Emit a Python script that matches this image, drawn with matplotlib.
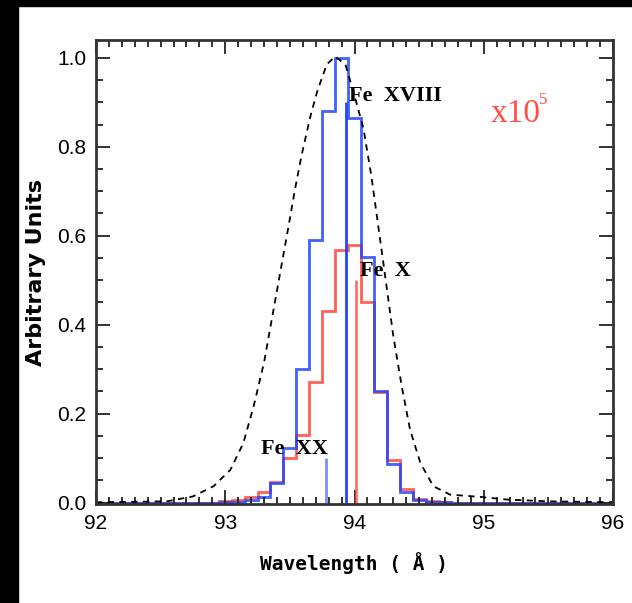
import numpy as np
import matplotlib.pyplot as plt
from matplotlib.patches import Rectangle
from matplotlib.ticker import MultipleLocator

# binned line profiles, bins 0.1 A wide centred on these wavelengths
bin_centers = [93.0, 93.1, 93.2, 93.3, 93.4, 93.5, 93.6, 93.7, 93.8,
               93.9, 94.0, 94.1, 94.2, 94.3, 94.4, 94.5, 94.6, 94.7]
blue_vals = [0.001, 0.002, 0.005, 0.012, 0.045, 0.123, 0.30, 0.59, 0.88,
             1.0, 0.865, 0.552, 0.25, 0.088, 0.024, 0.006, 0.002, 0.001]
red_vals = [0.003, 0.006, 0.012, 0.025, 0.047, 0.10, 0.153, 0.271, 0.43,
            0.567, 0.58, 0.45, 0.248, 0.095, 0.03, 0.008, 0.003, 0.001]

# instrument profile (dashed)
prof_x = [92.0, 92.3, 92.55, 92.75, 92.91, 93.04, 93.14, 93.22, 93.30, 93.36,
          93.43, 93.49, 93.54, 93.59, 93.66, 93.71, 93.785, 93.85, 93.93,
          94.00, 94.07, 94.13, 94.18, 94.225, 94.30, 94.365, 94.43, 94.51,
          94.61, 94.74, 94.97, 95.18, 95.5, 96.0]
prof_y = [0.001, 0.002, 0.003, 0.014, 0.037, 0.074, 0.134, 0.217, 0.315, 0.412,
          0.525, 0.622, 0.705, 0.780, 0.870, 0.923, 0.985, 1.003, 0.985,
          0.915, 0.840, 0.735, 0.630, 0.535, 0.375, 0.262, 0.164, 0.089,
          0.037, 0.018, 0.013, 0.007, 0.003, 0.001]

# line positions and heights
lines = [("Fe XVIII", 93.932, 0.90), ("Fe X", 94.012, 0.50), ("Fe XX", 93.78, 0.10)]

blue = '#2046ff'
red = '#ff4f45'

# pad bins with zeros over the whole window
full_centers = np.round(np.arange(92.0, 96.05, 0.1), 1)
def fill(vals):
    out = np.zeros(len(full_centers))
    for c, v in zip(bin_centers, vals):
        out[np.argmin(abs(full_centers - c))] = v
    return out
edges = np.append(full_centers - 0.05, full_centers[-1] + 0.05)

fig = plt.figure(figsize=(6.32, 6.03), dpi=100)
fig.patches.append(Rectangle((0, 0), 18 / 632, 1, transform=fig.transFigure,
                             color='black', zorder=-10))
fig.patches.append(Rectangle((0, 1 - 6 / 603), 1, 6 / 603, transform=fig.transFigure,
                             color='black', zorder=-10))
ax = fig.add_axes([96 / 632, 1 - 504 / 603, 517 / 632, 464 / 603])

ax.plot(prof_x, prof_y, color='black', lw=1.3, dashes=(3.5, 3))
ax.stairs(fill(red_vals), edges, color=red, lw=2, baseline=None, alpha=0.9)
ax.stairs(fill(blue_vals), edges, color=blue, lw=2, baseline=None, alpha=0.85)

ax.vlines(lines[0][1], 0, lines[0][2], color=blue, lw=2)
ax.vlines(lines[1][1], 0, lines[1][2], color=red, lw=2, alpha=0.8)
ax.vlines(lines[2][1], 0, lines[2][2], color=blue, lw=2, alpha=0.6)

tfont = dict(family='Liberation Serif', fontweight='bold', fontsize=16, va='center')
ax.text(93.955, 0.915, "Fe  XVIII", **tfont)
ax.text(94.045, 0.52, "Fe  X", **tfont)
ax.text(93.28, 0.12, "Fe  XX", **tfont)
ax.text(95.05, 0.875, "x10", color=red, family='Liberation Serif',
        fontsize=24, va='center')
ax.text(95.425, 0.905, "5", color=red, family='Liberation Serif',
        fontsize=12, va='center')

ax.set_xlim(92, 96)
ax.set_ylim(-0.003, 1.04)
ax.xaxis.set_major_locator(MultipleLocator(1))
ax.xaxis.set_minor_locator(MultipleLocator(0.1))
ax.yaxis.set_major_locator(MultipleLocator(0.2))
ax.yaxis.set_minor_locator(MultipleLocator(0.05))
ax.yaxis.set_major_formatter(plt.FormatStrFormatter('%.1f'))
ax.tick_params(which='both', direction='in', top=True, right=True, width=1.3,
               color='#222222')
ax.tick_params(which='major', length=10, labelsize=15, pad=7)
ax.tick_params(which='minor', length=5)
for lab in ax.get_xticklabels() + ax.get_yticklabels():
    lab.set_family('Liberation Sans')
for s in ax.spines.values():
    s.set_linewidth(2)
    s.set_color('#333333')

ax.set_xlabel("Wavelength ( Å )", family='DejaVu Sans Mono', fontweight='bold',
              fontsize=14, labelpad=14)
ax.set_ylabel("Arbitrary Units", family='DejaVu Sans', fontweight='bold',
              fontsize=16, labelpad=8)

fig.savefig('out.png', dpi=100)
